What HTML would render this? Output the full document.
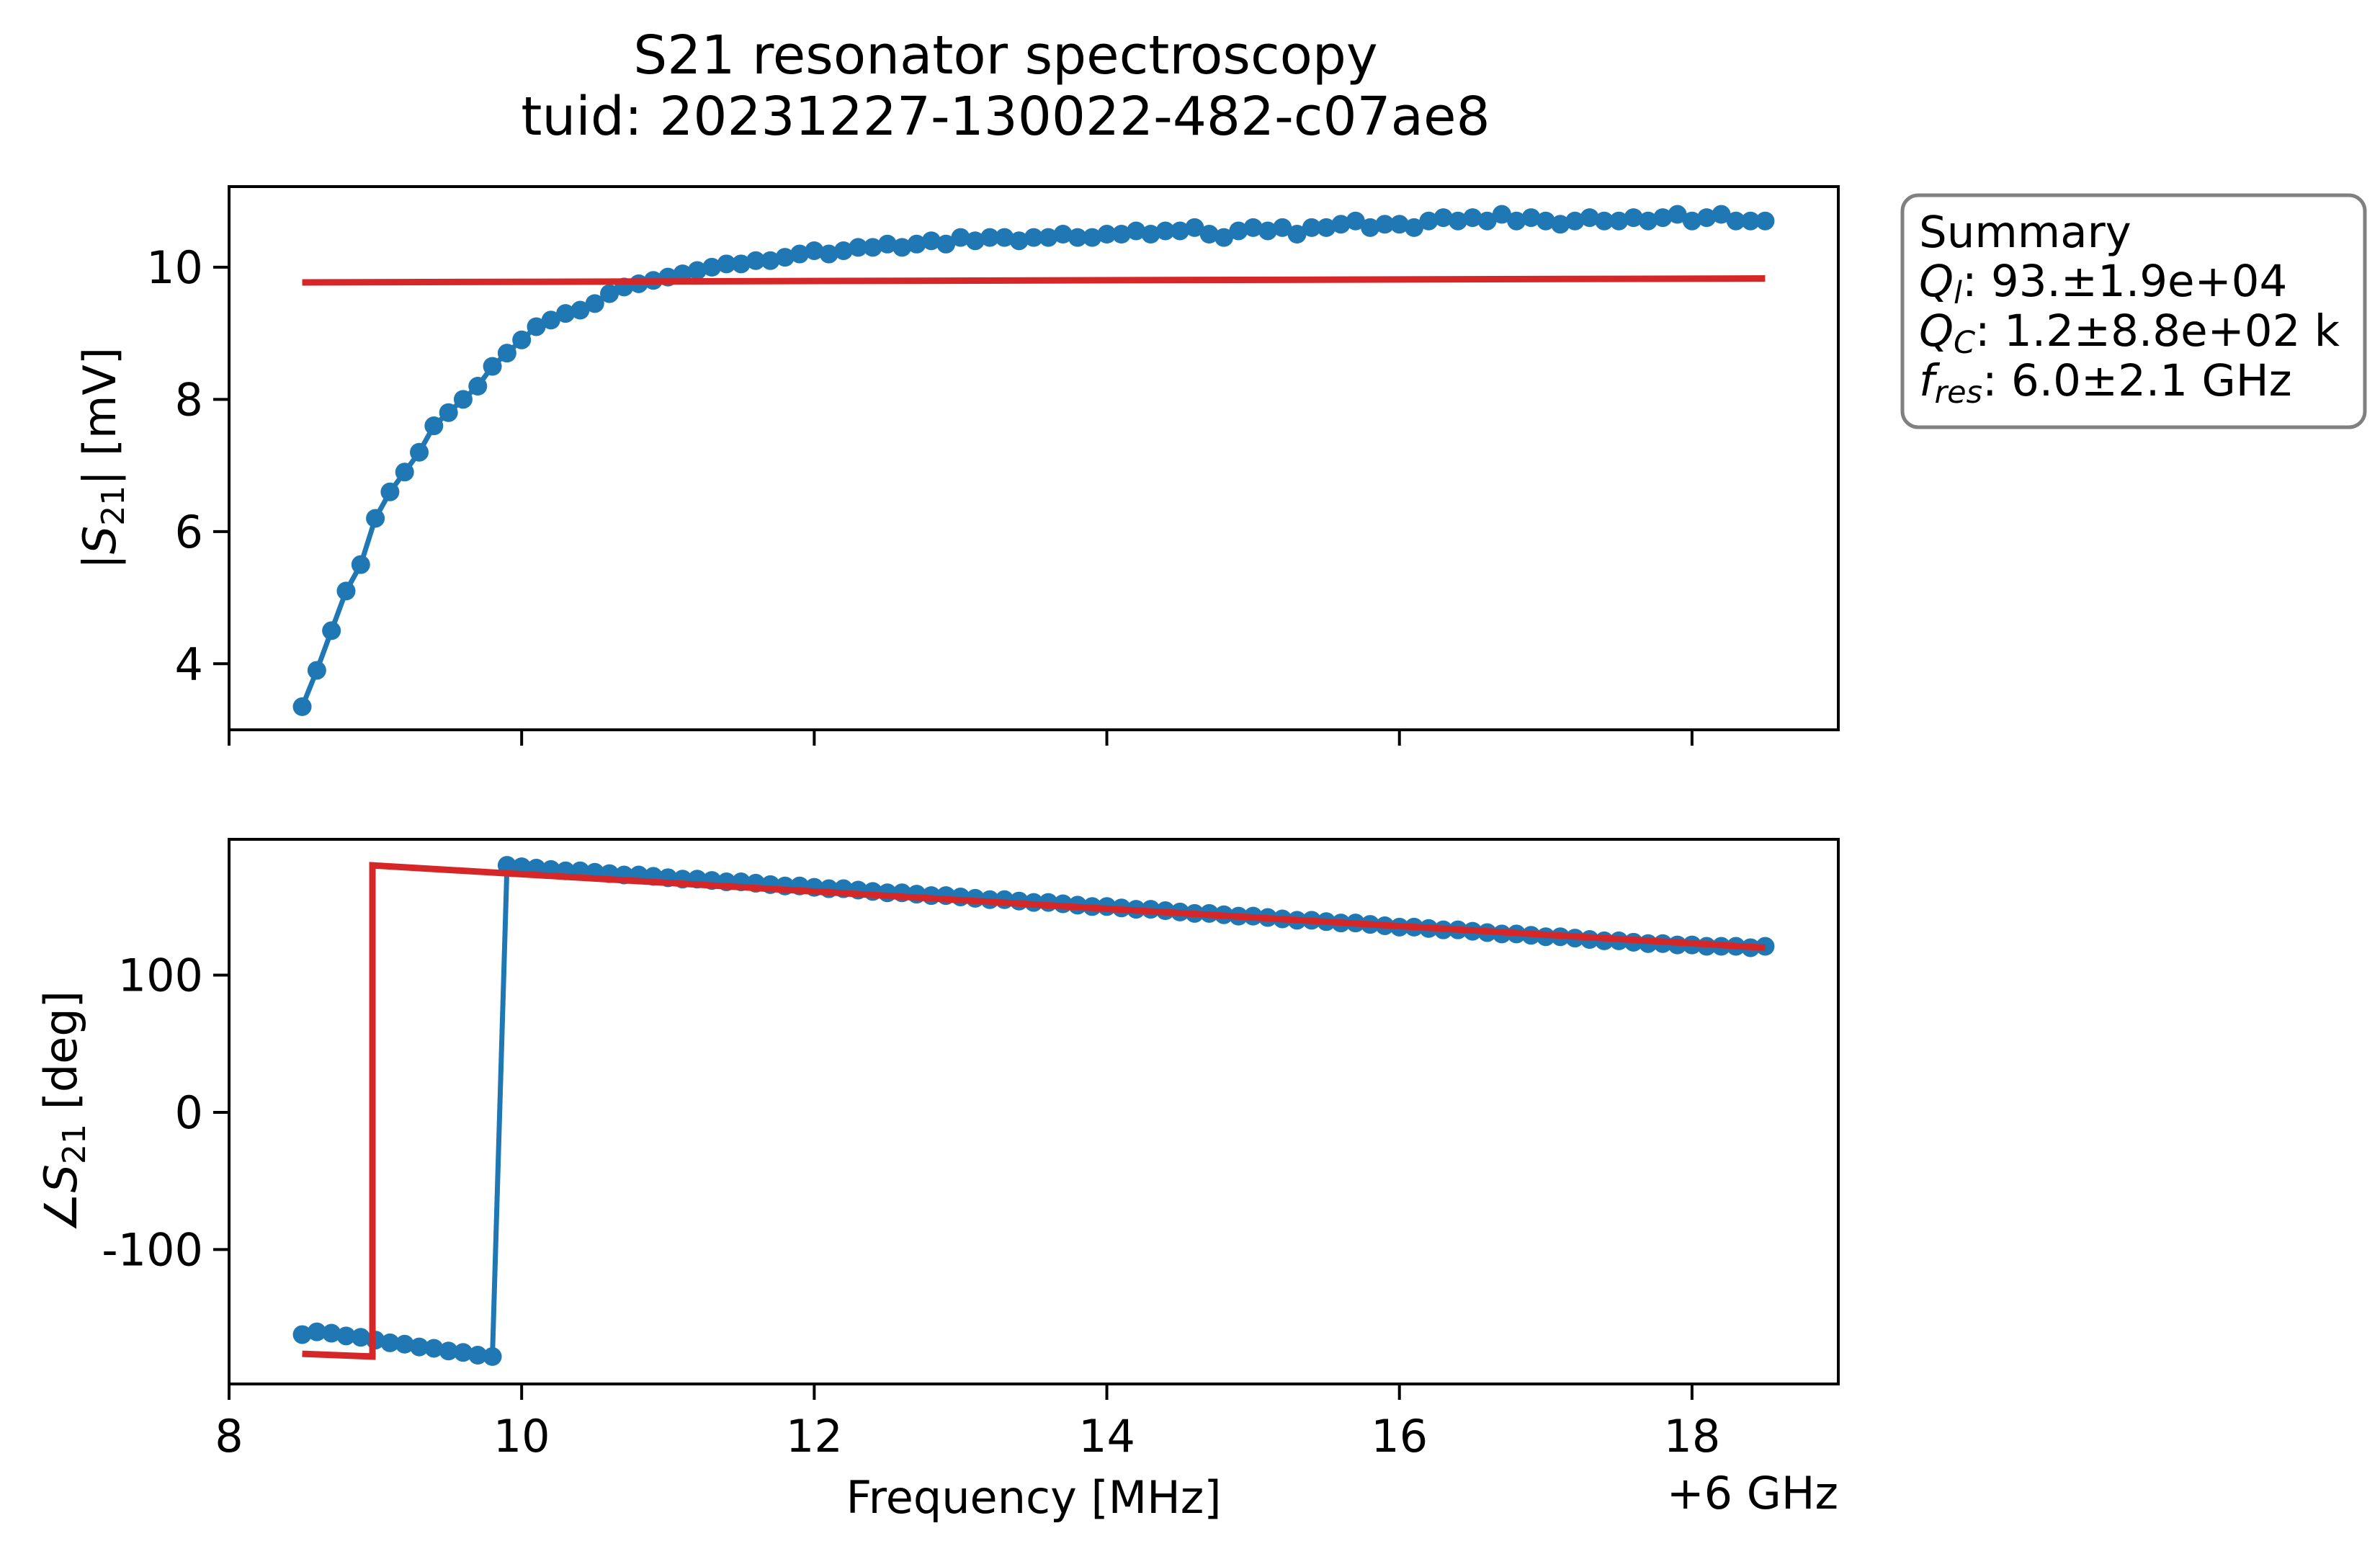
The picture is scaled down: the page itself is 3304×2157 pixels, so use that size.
<!DOCTYPE html>
<html><head><meta charset="utf-8"><style>
html,body{margin:0;padding:0;background:#fff;}
svg{display:block;font-family:"DejaVu Sans","Liberation Sans",sans-serif;}
</style></head><body>
<svg id="fig" width="3304" height="2157" viewBox="0 0 3304 2157" xmlns="http://www.w3.org/2000/svg">
<rect width="3304" height="2157" fill="#fff"/>
<text x="1396" y="102" font-size="74" text-anchor="middle">S21 resonator spectroscopy</text>
<text x="1396" y="187" font-size="74" text-anchor="middle">tuid: 20231227-130022-482-c07ae8</text>
<g id="top"></g>
<g id="bot"></g>
<text x="1435" y="2100" font-size="62" text-anchor="middle">Frequency [MHz]</text>
<text x="2552" y="2094" font-size="62" text-anchor="end">+6 GHz</text>
<text transform="translate(160,636) rotate(-90)" font-size="62" text-anchor="middle">|<tspan font-style="italic">S</tspan><tspan font-size="44" dy="12">21</tspan><tspan dy="-12">| [mV]</tspan></text>
<text transform="translate(106,1543) rotate(-90)" font-size="62" text-anchor="middle">∠<tspan font-style="italic">S</tspan><tspan font-size="44" dy="12">21</tspan><tspan dy="-12"> [deg]</tspan></text>
<g>
<rect x="2641" y="271" width="642" height="322" rx="22" fill="#fff" stroke="#808080" stroke-width="5"/>
<text x="2664" y="343" font-size="61">Summary</text>
<text x="2664" y="411" font-size="61"><tspan font-style="italic">Q</tspan><tspan font-size="43" font-style="italic" dy="10">l</tspan><tspan dy="-10">: 93.±1.9e+04</tspan></text>
<text x="2664" y="480" font-size="61"><tspan font-style="italic">Q</tspan><tspan font-size="43" font-style="italic" dy="10">C</tspan><tspan dy="-10">: 1.2±8.8e+02 k</tspan></text>
<text x="2664" y="549" font-size="61"><tspan font-style="italic">f</tspan><tspan font-size="43" font-style="italic" dy="10">res</tspan><tspan dy="-10">: 6.0±2.1 GHz</tspan></text>
</g>
</svg>
<script>
const freqStart = 8.5;
const freqStep = 0.1;
const magValues = [3.35,3.9,4.5,5.1,5.5,6.2,6.6,6.9,7.2,7.6,7.8,8.0,8.2,8.5,8.7,8.9,9.1,9.2,9.3,9.35,9.45,9.6,9.7,9.75,9.8,9.85,9.9,9.95,10.0,10.05,10.05,10.1,10.1,10.15,10.2,10.25,10.2,10.25,10.3,10.3,10.35,10.3,10.35,10.4,10.35,10.45,10.4,10.45,10.45,10.4,10.45,10.45,10.5,10.45,10.45,10.5,
10.5,10.55,10.5,10.55,10.55,10.6,10.5,10.45,10.55,10.6,10.55,10.6,10.5,10.6,10.6,10.65,10.7,10.6,10.65,10.65,10.6,10.7,10.75,10.7,10.75,10.7,10.8,10.7,10.75,10.7,10.65,10.7,10.75,10.7,10.7,10.75,10.7,10.75,10.8,10.7,10.75,10.8,10.7,10.7,10.7];
const phaseValues = [-162,-160,-161,-163,-164,-166,-168,-169,-171,-172,-174,-175,-177,-178,
180,179,178,177,176,176,175,174,173,173,172,171,170,170,169,168,168,167,166,165,165,164,163,163,162,161,160,160,159,158,158,157,156,155,155,154,153,153,152,151,150,150,149,148,148,147,146,145,145,144,143,143,142,141,140,140,139,138,138,137,136,135,135,134,133,133,132,131,130,130,129,128,128,127,126,125,125,124,123,123,122,122,121,121,121,120,121];
const magFitX = [8.5, 18.5];
const magFitY = [9.77, 9.83];
const phaseFitX = [8.5, 8.98, 8.98, 18.5];
const phaseFitY = [-176, -178, 180, 120];
const xTicks = [8,10,12,14,16,18];
const magTicks = [4,6,8,10];
const phaseTicks = [-100,0,100];
const phaseTickLabels = ["-100","0","100"];

const NS = "http://www.w3.org/2000/svg";
const L = 318, R = 2552;
const xs = v => L + (v - 8) / (19 - 8) * (R - L);
function mk(tag, attrs, parent){const e=document.createElementNS(NS,tag);for(const k in attrs)e.setAttribute(k,attrs[k]);parent.appendChild(e);return e;}
function axes(g, top, bottom, ymin, ymax, yt, ytl, showX){
  const ys = v => bottom - (v - ymin) / (ymax - ymin) * (bottom - top);
  yt.forEach((t,i)=>{
    const y=ys(t);
    const tk=mk('line',{x1:L-22,x2:L,y1:y,y2:y,stroke:'#000','stroke-width':4},g);
    
    
    const tl=mk('text',{x:L-36,y:y+22,'font-size':62,'text-anchor':'end'},g);
    
    
    tl.textContent=ytl[i];
  });
  xTicks.forEach(t=>{
    const x=xs(t);
    const tk=mk('line',{x1:x,x2:x,y1:bottom,y2:bottom+22,stroke:'#000','stroke-width':4},g);
    
    
    if(showX){
      const tl=mk('text',{x:x,y:2015,'font-size':62,'text-anchor':'middle'},g);
      
      
      tl.textContent=String(t);
    }
  });
  return ys;
}
function series(g, ys, vals, fx, fy, nameData, nameFit){
  const pts = vals.map((v,i)=>[xs(freqStart+i*freqStep), ys(v)]);
  const ln=mk('polyline',{points:pts.map(p=>p.join(',')).join(' '),fill:'none',stroke:'#1f77b4','stroke-width':7,'stroke-linejoin':'round'},g);
  
  
  pts.forEach(p=>{
    const c=mk('circle',{cx:p[0],cy:p[1],r:13,fill:'#1f77b4'},g);
    
    
  });
  const fp=fx.map((x,i)=>xs(x)+','+ys(fy[i])).join(' ');
  const f=mk('polyline',{points:fp,fill:'none',stroke:'#d62728','stroke-width':9,'stroke-linejoin':'miter'},g);
  
  
}
function frame(g, top, bottom){
  const r=mk('rect',{x:L,y:top,width:R-L,height:bottom-top,fill:'none',stroke:'#000','stroke-width':4},g);
  
  
}
const gt=document.getElementById('top'), gb=document.getElementById('bot');
const ys1=axes(gt,259,1013,3.0,11.22,magTicks,magTicks.map(String),false);
series(gt,ys1,magValues,magFitX,magFitY,'magnitude-data','magnitude-fit');
frame(gt,259,1013);
const ys2=axes(gb,1165,1921,-198,199,phaseTicks,phaseTickLabels,true);
series(gb,ys2,phaseValues,phaseFitX,phaseFitY,'phase-data','phase-fit');
frame(gb,1165,1921);
</script>
</body></html>
